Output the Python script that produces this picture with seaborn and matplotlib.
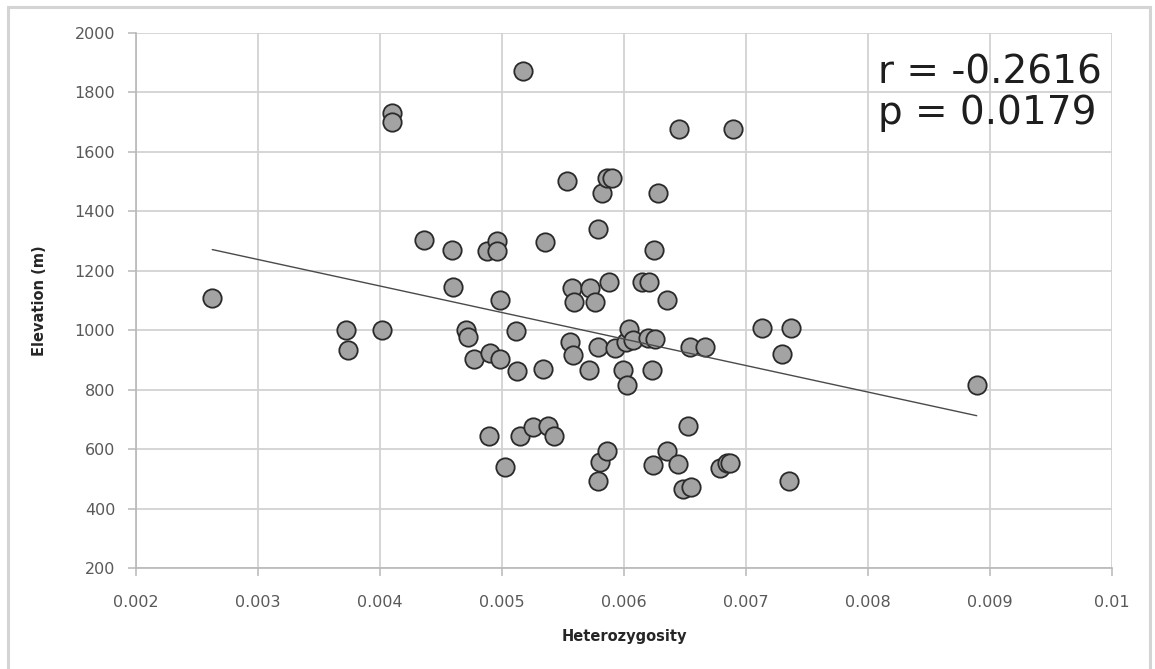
import matplotlib
matplotlib.use("Agg")
import matplotlib.pyplot as plt
import seaborn as sns
import pandas as pd
from matplotlib.patches import Rectangle

# Per-site genetic diversity and sampling elevation
heterozygosity = [
    0.002625, 0.00372, 0.00374, 0.00402, 0.00410, 0.00410, 0.00436, 0.00459,
    0.00460, 0.004705, 0.004724, 0.004773, 0.004874, 0.004893, 0.004902, 0.004957,
    0.004957, 0.004984, 0.004984, 0.005025, 0.005112, 0.00512, 0.005148, 0.005175,
    0.005257, 0.005333, 0.00535, 0.00538, 0.005429, 0.005535, 0.005557, 0.00557,
    0.005584, 0.00559, 0.005716, 0.00572, 0.005762, 0.005784, 0.005784, 0.005784,
    0.005803, 0.005822, 0.005858, 0.005863, 0.005877, 0.00590, 0.005926, 0.005994,
    0.006013, 0.006022, 0.006043, 0.006076, 0.006145, 0.00620, 0.006208, 0.006226,
    0.00624, 0.006246, 0.006254, 0.00628, 0.00635, 0.00635, 0.00644, 0.006454,
    0.006486, 0.006527, 0.006541, 0.00655, 0.00666, 0.006787, 0.006842, 0.00687,
    0.006891, 0.007133, 0.007298, 0.007352, 0.00737, 0.008891,
]
elevation = [
    1110, 1000, 934, 1000, 1730, 1700, 1305, 1270,
    1145, 1000, 976, 903, 1268, 645, 922, 1300,
    1268, 1102, 903, 539, 996, 862, 645, 1871,
    676, 870, 1296, 677, 645, 1503, 962, 1143,
    918, 1096, 867, 1143, 1096, 1341, 945, 492,
    557, 1461, 593, 1512, 1162, 1512, 940, 868,
    961, 815, 1004, 968, 1161, 973, 1161, 867,
    548, 1270, 971, 1461, 1100, 593, 551, 1677,
    466, 677, 945, 474, 945, 537, 554, 554,
    1677, 1008, 921, 492, 1008, 817,
]

x_ticks = [0.002, 0.003, 0.004, 0.005, 0.006, 0.007, 0.008, 0.009, 0.01]
x_tick_labels = ["0.002", "0.003", "0.004", "0.005", "0.006", "0.007", "0.008", "0.009", "0.01"]
y_ticks = [200, 400, 600, 800, 1000, 1200, 1400, 1600, 1800, 2000]

stats_text = ["r = -0.2616", "p = 0.0179"]

df = pd.DataFrame({"Heterozygosity": heterozygosity, "Elevation (m)": elevation})

sns.set_theme(style="white")
plt.rcParams["font.family"] = ["DejaVu Sans"]

fig = plt.figure(figsize=(11.55, 6.69), dpi=100)
fig.patch.set_facecolor("white")

# light frame around the chart
fig.patches.append(Rectangle((8 / 1155, -0.01), (1150 - 8) / 1155, 1 - 7 / 669 + 0.01,
                             transform=fig.transFigure, fill=False,
                             edgecolor="#d4d4d4", linewidth=2.2, zorder=0))

ax = fig.add_axes([136 / 1155, (669 - 568.3) / 669, 976 / 1155, 535.6 / 669])

sns.regplot(
    data=df, x="Heterozygosity", y="Elevation (m)", ax=ax, ci=None, truncate=True,
    scatter_kws=dict(s=175, facecolor="#a3a3a3", edgecolor="#2a2a2a",
                     linewidths=1.3, alpha=1, zorder=3),
    line_kws=dict(color="#4a4a4a", linewidth=1.0, zorder=4),
)

ax.set_xlim(0.002, 0.01)
ax.set_ylim(200, 2000)
ax.set_xticks(x_ticks)
ax.set_xticklabels(x_tick_labels)
ax.set_yticks(y_ticks)

ax.grid(True, color="#d2d2d2", linewidth=1.3)
ax.set_axisbelow(True)
for side in ["top", "right"]:
    ax.spines[side].set_visible(False)
for side in ["left", "bottom"]:
    ax.spines[side].set_color("#b8b8b8")
    ax.spines[side].set_linewidth(1.2)

ax.tick_params(axis="both", which="major", direction="out", length=6, width=1.1,
               color="#b8b8b8", labelcolor="#595959", labelsize=11.5)
ax.tick_params(axis="x", pad=13, bottom=True)
ax.tick_params(axis="y", pad=9, left=True)

ax.set_xlabel("Heterozygosity", fontsize=10.5, fontweight="bold", color="#262626", labelpad=14)
ax.set_ylabel("Elevation (m)", fontsize=10.5, fontweight="bold", color="#262626", labelpad=20)

ax.text(0.760, 0.906, stats_text[0], transform=ax.transAxes, fontsize=28,
        color="#1e1e1e", va="baseline", ha="left", zorder=6)
ax.text(0.760, 0.830, stats_text[1], transform=ax.transAxes, fontsize=28,
        color="#1e1e1e", va="baseline", ha="left", zorder=6)

fig.savefig("out.png", dpi=100, facecolor="white")
